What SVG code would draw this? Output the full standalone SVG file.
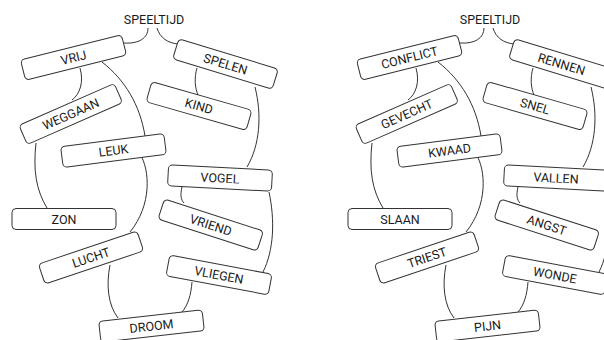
<svg xmlns="http://www.w3.org/2000/svg" width="604" height="340" viewBox="0 0 604 340">
<style>
.bg{fill:#ffffff}
.box{fill:#ffffff;stroke:#333333;stroke-width:1}
.lbl{font-family:Roboto,"Liberation Sans",sans-serif;font-size:12.5px;fill:#1a1a1a;text-anchor:middle}
.root{font-family:Roboto,"Liberation Sans",sans-serif;font-size:12.5px;fill:#1a1a1a;text-anchor:middle}
.con{fill:none;stroke:#333333;stroke-width:1}
</style>
<defs>
<rect id="b" class="box" x="-52" y="-10.5" width="104" height="21" rx="4"/>
</defs>
<rect class="bg" x="0" y="0" width="604" height="340"/>

<g id="left">
<g id="left-connectors">
<path class="con" d="M148,28 C148,38 139,44 124,43"/>
<path class="con" d="M157,28 C160,38 168,43 178,44"/>
<path class="con" d="M80,68 C84,82 80,94 72,100"/>
<path class="con" d="M102,62 C125,80 140,105 145,136"/>
<path class="con" d="M197,68 C194,78 195,88 198,95"/>
<path class="con" d="M255,87 C262,115 260,145 247,167"/>
<path class="con" d="M36,143 C33,170 36,190 47,208"/>
<path class="con" d="M140,154 C150,170 152,205 130,232"/>
<path class="con" d="M182,187 C180,195 181,200 184,203"/>
<path class="con" d="M269,192 C275,220 274,250 263,272"/>
<path class="con" d="M110,265 C106,285 108,305 118,318"/>
<path class="con" d="M192,282 C191,295 188,305 182,312"/>
</g>
<g id="l-root"><text class="root" x="154" y="24">SPEELTIJD</text></g>
<g id="l-vrij" transform="translate(73.5,57.5) rotate(-14)"><use href="#b"/><text class="lbl" y="4.5">VRIJ</text></g>
<g id="l-spelen" transform="translate(225.5,64) rotate(17)"><use href="#b"/><text class="lbl" y="4.5">SPELEN</text></g>
<g id="l-kind" transform="translate(199,106) rotate(16)"><use href="#b"/><text class="lbl" y="4.5">KIND</text></g>
<g id="l-weggaan" transform="translate(70.75,114) rotate(-23.7)"><use href="#b"/><text class="lbl" y="4.5">WEGGAAN</text></g>
<g id="l-leuk" transform="translate(113.5,150.5) rotate(-7.3)"><use href="#b"/><text class="lbl" y="4.5">LEUK</text></g>
<g id="l-vogel" transform="translate(220,178) rotate(3)"><use href="#b"/><text class="lbl" y="4.5">VOGEL</text></g>
<g id="l-vriend" transform="translate(210.75,225) rotate(18)"><use href="#b"/><text class="lbl" y="4.5">VRIEND</text></g>
<g id="l-zon" transform="translate(64,219)"><use href="#b"/><text class="lbl" y="4.5">ZON</text></g>
<g id="l-lucht" transform="translate(91,257.5) rotate(-18.6)"><use href="#b"/><text class="lbl" y="4.5">LUCHT</text></g>
<g id="l-vliegen" transform="translate(219,275) rotate(10.6)"><use href="#b"/><text class="lbl" y="4.5">VLIEGEN</text></g>
<g id="l-droom" transform="translate(151.5,326) rotate(-6.4)"><use href="#b"/><text class="lbl" y="4.5">DROOM</text></g>
</g>

<g id="right" transform="translate(336,0)">
<g id="right-connectors">
<path class="con" d="M148,28 C148,38 139,44 124,43"/>
<path class="con" d="M157,28 C160,38 168,43 178,44"/>
<path class="con" d="M80,68 C84,82 80,94 72,100"/>
<path class="con" d="M102,62 C125,80 140,105 145,136"/>
<path class="con" d="M197,68 C194,78 195,88 198,95"/>
<path class="con" d="M255,87 C262,115 260,145 247,167"/>
<path class="con" d="M36,143 C33,170 36,190 47,208"/>
<path class="con" d="M140,154 C150,170 152,205 130,232"/>
<path class="con" d="M182,187 C180,195 181,200 184,203"/>
<path class="con" d="M269,192 C275,220 274,250 263,272"/>
<path class="con" d="M110,265 C106,285 108,305 118,318"/>
<path class="con" d="M192,282 C191,295 188,305 182,312"/>
</g>
<g id="r-root"><text class="root" x="154" y="24">SPEELTIJD</text></g>
<g id="r-conflict" transform="translate(73.5,57.5) rotate(-14)"><use href="#b"/><text class="lbl" y="4.5">CONFLICT</text></g>
<g id="r-rennen" transform="translate(225.5,64) rotate(17)"><use href="#b"/><text class="lbl" y="4.5">RENNEN</text></g>
<g id="r-snel" transform="translate(199,106) rotate(16)"><use href="#b"/><text class="lbl" y="4.5">SNEL</text></g>
<g id="r-gevecht" transform="translate(70.75,114) rotate(-23.7)"><use href="#b"/><text class="lbl" y="4.5">GEVECHT</text></g>
<g id="r-kwaad" transform="translate(113.5,150.5) rotate(-7.3)"><use href="#b"/><text class="lbl" y="4.5">KWAAD</text></g>
<g id="r-vallen" transform="translate(220,178) rotate(3)"><use href="#b"/><text class="lbl" y="4.5">VALLEN</text></g>
<g id="r-angst" transform="translate(210.75,225) rotate(18)"><use href="#b"/><text class="lbl" y="4.5">ANGST</text></g>
<g id="r-slaan" transform="translate(64,219)"><use href="#b"/><text class="lbl" y="4.5">SLAAN</text></g>
<g id="r-triest" transform="translate(91,257.5) rotate(-18.6)"><use href="#b"/><text class="lbl" y="4.5">TRIEST</text></g>
<g id="r-wonde" transform="translate(219,275) rotate(10.6)"><use href="#b"/><text class="lbl" y="4.5">WONDE</text></g>
<g id="r-pijn" transform="translate(151.5,326) rotate(-6.4)"><use href="#b"/><text class="lbl" y="4.5">PIJN</text></g>
</g>
</svg>
